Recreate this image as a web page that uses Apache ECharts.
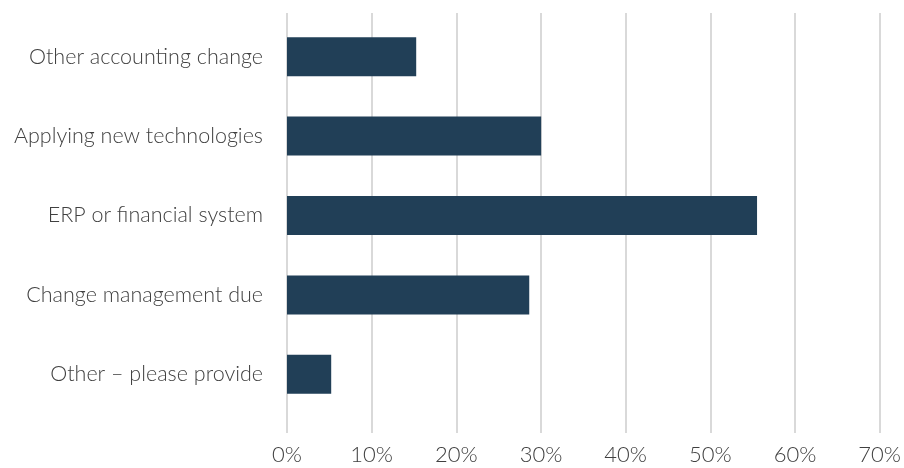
<!DOCTYPE html>
<html><head><meta charset="utf-8">
<script src="https://cdn.jsdelivr.net/npm/echarts@6/dist/echarts.min.js"></script>
<style>html,body{margin:0;padding:0;background:#fff}#c{width:904px;height:468px}</style>
</head><body><div id="c"></div>
<script>
const categories = ["Other accounting change","Applying new technologies","ERP or financial system","Change management due","Other \u2013 please provide"];
const values = [15.2, 29.9, 55.3, 28.5, 5.2];
const xTicks = [0, 10, 20, 30, 40, 50, 60, 70];

const font = "Lato";
const chart = echarts.init(document.getElementById('c'), null, {renderer:'canvas'});
chart.setOption({
  animation:false,
  grid:[
    {left:287, right:22, top:13, bottom:35},
    {left:287, right:22, top:17, bottom:54}
  ],
  xAxis:[
    {gridIndex:0, type:'value', min:xTicks[0], max:xTicks[xTicks.length-1], interval:10,
     axisLine:{show:false}, axisTick:{show:false},
     axisLabel:{formatter:'{value}%', fontFamily:font, fontWeight:300, fontSize:22, color:'#404040', margin:11},
     splitLine:{show:true, lineStyle:{color:'#d9d9d9', width:2}}},
    {gridIndex:1, type:'value', min:xTicks[0], max:xTicks[xTicks.length-1], interval:10, show:false}
  ],
  yAxis:[
    {gridIndex:0, type:'category', data:categories, show:false},
    {gridIndex:1, type:'category', data:categories, inverse:true,
     axisLine:{show:false}, axisTick:{show:false},
     axisLabel:{fontFamily:font, fontWeight:300, fontSize:21.5, color:'#404040', margin:24}}
  ],
  series:[{
    type:'bar', xAxisIndex:1, yAxisIndex:1, data:values, barWidth:39,
    itemStyle:{color:'#213f57'}
  }]
});
</script></body></html>
